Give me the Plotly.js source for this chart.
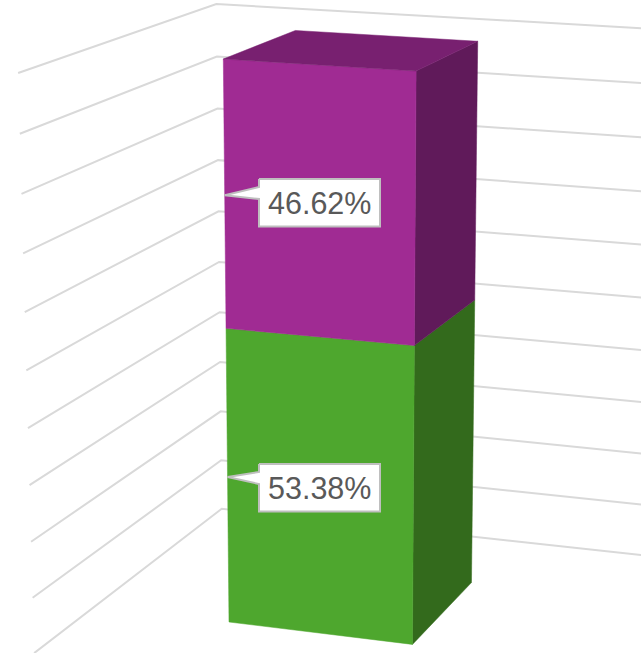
<!DOCTYPE html>
<html>
<head>
<meta charset="utf-8">
<script src="https://cdn.plot.ly/plotly-3.0.1.min.js"></script>
<style>html,body{margin:0;padding:0;background:#fff}#chart{width:641px;height:653px}</style>
</head>
<body>
<div id="chart"></div>
<script>
// Stacked share of one column, bottom segment first (percent).
const seriesNames = ['Series A', 'Series B'];
const seriesValues = [53.38, 46.62];
const frontColors = ['#4EA72E', '#A02B93'];
const sideColors = ['#336A1C', '#601A5A'];
const topColor = '#782070';

// Value-axis gridlines on the two walls behind the column.
const gridTicks = [0, 10, 20, 30, 40, 50, 60, 70, 80, 90, 100];
const gridColor = '#D9D9D9';

// Perspective projection of the 3D plot box.
// X: column width units, Y: column depth units, Z: share of the full axis.
const cam = {
  u: [229, 175.6, 86.5, -16.4],
  v: [622, 10.15, -25.3, -565.83],
  w: [1, -0.01904, 0.0607, -0.048]
};
function project(X, Y, pct) {
  const Z = pct / 100;
  const d = cam.w[0] + cam.w[1] * X + cam.w[2] * Y + cam.w[3] * Z;
  return [
    (cam.u[0] + cam.u[1] * X + cam.u[2] * Y + cam.u[3] * Z) / d,
    (cam.v[0] + cam.v[1] * X + cam.v[2] * Y + cam.v[3] * Z) / d
  ];
}

// Walls of the plot box in the same units.
const wall = { cornerX: -0.751, cornerY: 1.749, rightX: 1.8, frontY: -0.74 };

function polygon(points, color, name) {
  const p = points.map(q => project(q[0], q[1], q[2]));
  return {
    type: 'scatter', mode: 'lines', name: name,
    x: p.map(q => q[0]).concat(p[0][0]),
    y: p.map(q => q[1]).concat(p[0][1]),
    fill: 'toself', fillcolor: color,
    line: { width: 0.5, color: color },
    hoverinfo: 'skip', showlegend: false
  };
}

const traces = [];

// Gridlines: side wall, back corner, back wall.
gridTicks.forEach(t => {
  const p = [
    project(wall.cornerX, wall.frontY, t),
    project(wall.cornerX, wall.cornerY, t),
    project(wall.rightX, wall.cornerY, t)
  ];
  traces.push({
    type: 'scatter', mode: 'lines', name: t + '%',
    x: p.map(q => q[0]), y: p.map(q => q[1]),
    line: { color: gridColor, width: 2 },
    hoverinfo: 'skip', showlegend: false
  });
});

// Column segments: right side and front faces, then the cap on top.
let base = 0;
const annotations = [];
// Callout boxes: top edge of each box, shared horizontal extent.
const boxTops = [464, 179];
const boxHeight = 47.5;
const boxLeft = 259, boxRight = 380;
const notchStart = 8, notchSize = 12;
seriesValues.forEach((val, i) => {
  const top = base + val;
  traces.push(polygon([[1, 0, base], [1, 1, base], [1, 1, top], [1, 0, top]], sideColors[i], seriesNames[i] + ' side'));
  traces.push(polygon([[0, 0, base], [1, 0, base], [1, 0, top], [0, 0, top]], frontColors[i], seriesNames[i]));

  // Callout outline: a box whose pointer ends at the segment's mid-height.
  const tip = project(0, 0, base + val / 2);
  const t = boxTops[i], b = t + boxHeight;
  traces.push({
    type: 'scatter', mode: 'lines', name: seriesNames[i] + ' label',
    x: [boxLeft, boxRight, boxRight, boxLeft, boxLeft, tip[0], boxLeft, boxLeft],
    y: [t, t, b, b, t + notchStart + notchSize, tip[1], t + notchStart, t],
    fill: 'toself', fillcolor: '#FFFFFF',
    line: { color: '#BFBFBF', width: 2 },
    hoverinfo: 'skip', showlegend: false
  });

  annotations.push({
    xref: 'x', yref: 'y', x: (boxLeft + boxRight) / 2, y: t + boxHeight / 2 + 0.5,
    xanchor: 'center', yanchor: 'middle', showarrow: false,
    text: val.toFixed(2) + '%',
    font: { family: 'Liberation Sans, Arial, sans-serif', size: 30.5, color: '#595959' }
  });
  base = top;
});
traces.push(polygon([[0, 0, 100], [1, 0, 100], [1, 1, 100], [0, 1, 100]], topColor, 'Column cap'));

const hiddenAxis = { visible: false, fixedrange: true };
Plotly.newPlot('chart', traces, {
  width: 641, height: 653,
  margin: { l: 0, r: 0, t: 0, b: 0 },
  paper_bgcolor: '#FFFFFF', plot_bgcolor: '#FFFFFF',
  xaxis: Object.assign({ range: [0, 641] }, hiddenAxis),
  yaxis: Object.assign({ range: [653, 0] }, hiddenAxis),
  showlegend: false,
  annotations: annotations
}, { displayModeBar: false, staticPlot: true });
</script>
</body>
</html>
